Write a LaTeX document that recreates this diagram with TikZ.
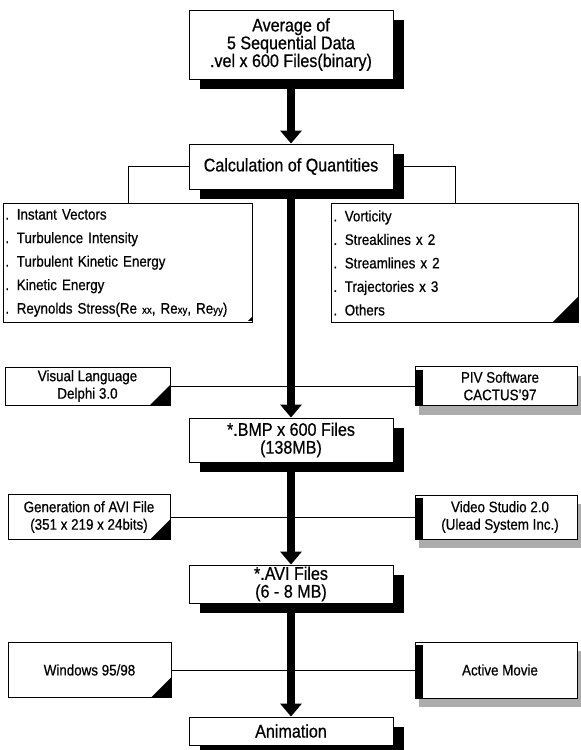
\documentclass[tikz,border=0pt]{standalone}
\usepackage{fontspec}
\setmainfont[FakeStretch=0.88,FakeBold=0.6]{Liberation Sans}
\usetikzlibrary{arrows.meta,shadows}
\begin{document}
\begin{tikzpicture}[x=1pt,y=-1pt,
  mainbox/.style={draw, line width=0.9pt, fill=white, minimum width=204pt, align=center,
    inner sep=0pt, font=\fontsize{18.3}{17.8}\selectfont,
    drop shadow={shadow xshift=11pt, shadow yshift=-10pt, fill=black, opacity=1}},
  listbox/.style={draw, line width=0.9pt, fill=white, align=left, inner sep=1.5pt,
    font=\fontsize{15.2}{23.5}\selectfont},
  leftbox/.style={draw, line width=0.9pt, fill=white, align=center, inner sep=0pt,
    font=\fontsize{15.2}{17.5}\selectfont,
    path picture={\fill[black] (path picture bounding box.south east) -- ++(-20pt,0pt) -- ++(20pt,20pt) -- cycle;}},
  rightbox/.style={draw, line width=0.9pt, fill=white, align=center, inner sep=0pt,
    font=\fontsize{15.2}{17.5}\selectfont,
    drop shadow={shadow xshift=4pt, shadow yshift=-9pt, fill=gray!65, opacity=1},
    path picture={\fill[black] ([yshift=-3pt]path picture bounding box.north west) rectangle ([xshift=8pt]path picture bounding box.south west);}},
  flow/.style={line width=7.5pt, -{Triangle[width=21pt,length=13pt]}},
  thinline/.style={line width=0.8pt}
]
\useasboundingbox (0,0) rectangle (581,750);

% main column
\node[mainbox, minimum height=69pt] (b1) at (291,44.5) {Average of\\5 Sequential Data\\.vel x 600 Files(binary)};
\node[mainbox, minimum height=45pt] (b2) at (291,166.5) {Calculation of Quantities};
\node[mainbox, minimum height=44pt] (bmp) at (291,440) {*.BMP x 600 Files\\(138MB)};
\node[mainbox, minimum height=38pt] (avi) at (291,584) {*.AVI Files\\(6 - 8 MB)};
\node[mainbox, minimum height=28pt] (anim) at (291,731) {Animation};

% list boxes
\node[listbox, anchor=north west, minimum width=249pt, minimum height=119pt, text width=245pt] (llist) at (3,203)
 {. Instant Vectors\\. Turbulence Intensity\\. Turbulent Kinetic Energy\\. Kinetic Energy\\. Reynolds Stress(Re {\fontsize{11}{11}\selectfont xx}, Re{\fontsize{11}{11}\selectfont xy}, Re{\fontsize{11}{11}\selectfont yy})};
\fill ([xshift=-1pt,yshift=2pt]llist.south east) -- ++(-4pt,0pt) -- ++(4pt,4pt) -- cycle;
\node[listbox, anchor=north west, minimum width=247pt, minimum height=119pt, text width=243pt,
  path picture={\fill[black] (path picture bounding box.south east) -- ++(-26pt,0pt) -- ++(26pt,26pt) -- cycle;}] (rlist) at (331,203)
 {. Vorticity\\. Streaklines x 2\\. Streamlines x 2\\. Trajectories x 3\\. Others};

% side boxes
\node[leftbox, minimum width=165pt, minimum height=38pt] (vis) at (87.5,386) {Visual Language\\Delphi 3.0};
\node[rightbox, minimum width=162pt, minimum height=39pt] (piv) at (496,386) {\hspace*{8pt}PIV Software\\\hspace*{8pt}CACTUS'97};
\node[leftbox, minimum width=162pt, minimum height=45pt] (gen) at (89,517) {Generation of AVI File\\(351 x 219 x 24bits)};
\node[rightbox, minimum width=162pt, minimum height=44pt] (vid) at (496,517) {\hspace*{8pt}Video Studio 2.0\\\hspace*{8pt}(Ulead System Inc.)};
\node[leftbox, minimum width=163pt, minimum height=55pt] (win) at (89.5,670) {Windows 95/98};
\node[rightbox, minimum width=162pt, minimum height=56pt] (act) at (496,670) {\hspace*{8pt}Active Movie};

% thin connectors
\draw[thinline] (b2.west) -| (llist.north);
\draw[thinline] (b2.east) -| (rlist.north);
\draw[thinline] (vis.east) -- (piv.west);
\draw[thinline] (gen.east) -- (vid.west);
\draw[thinline] (win.east) -- (act.west);

% thick flow arrows
\draw[flow] (b1.south) -- (b2.north);
\draw[flow] (b2.south) -- (bmp.north);
\draw[flow] (bmp.south) -- (avi.north);
\draw[flow] (avi.south) -- (anim.north);
\end{tikzpicture}
\end{document}
